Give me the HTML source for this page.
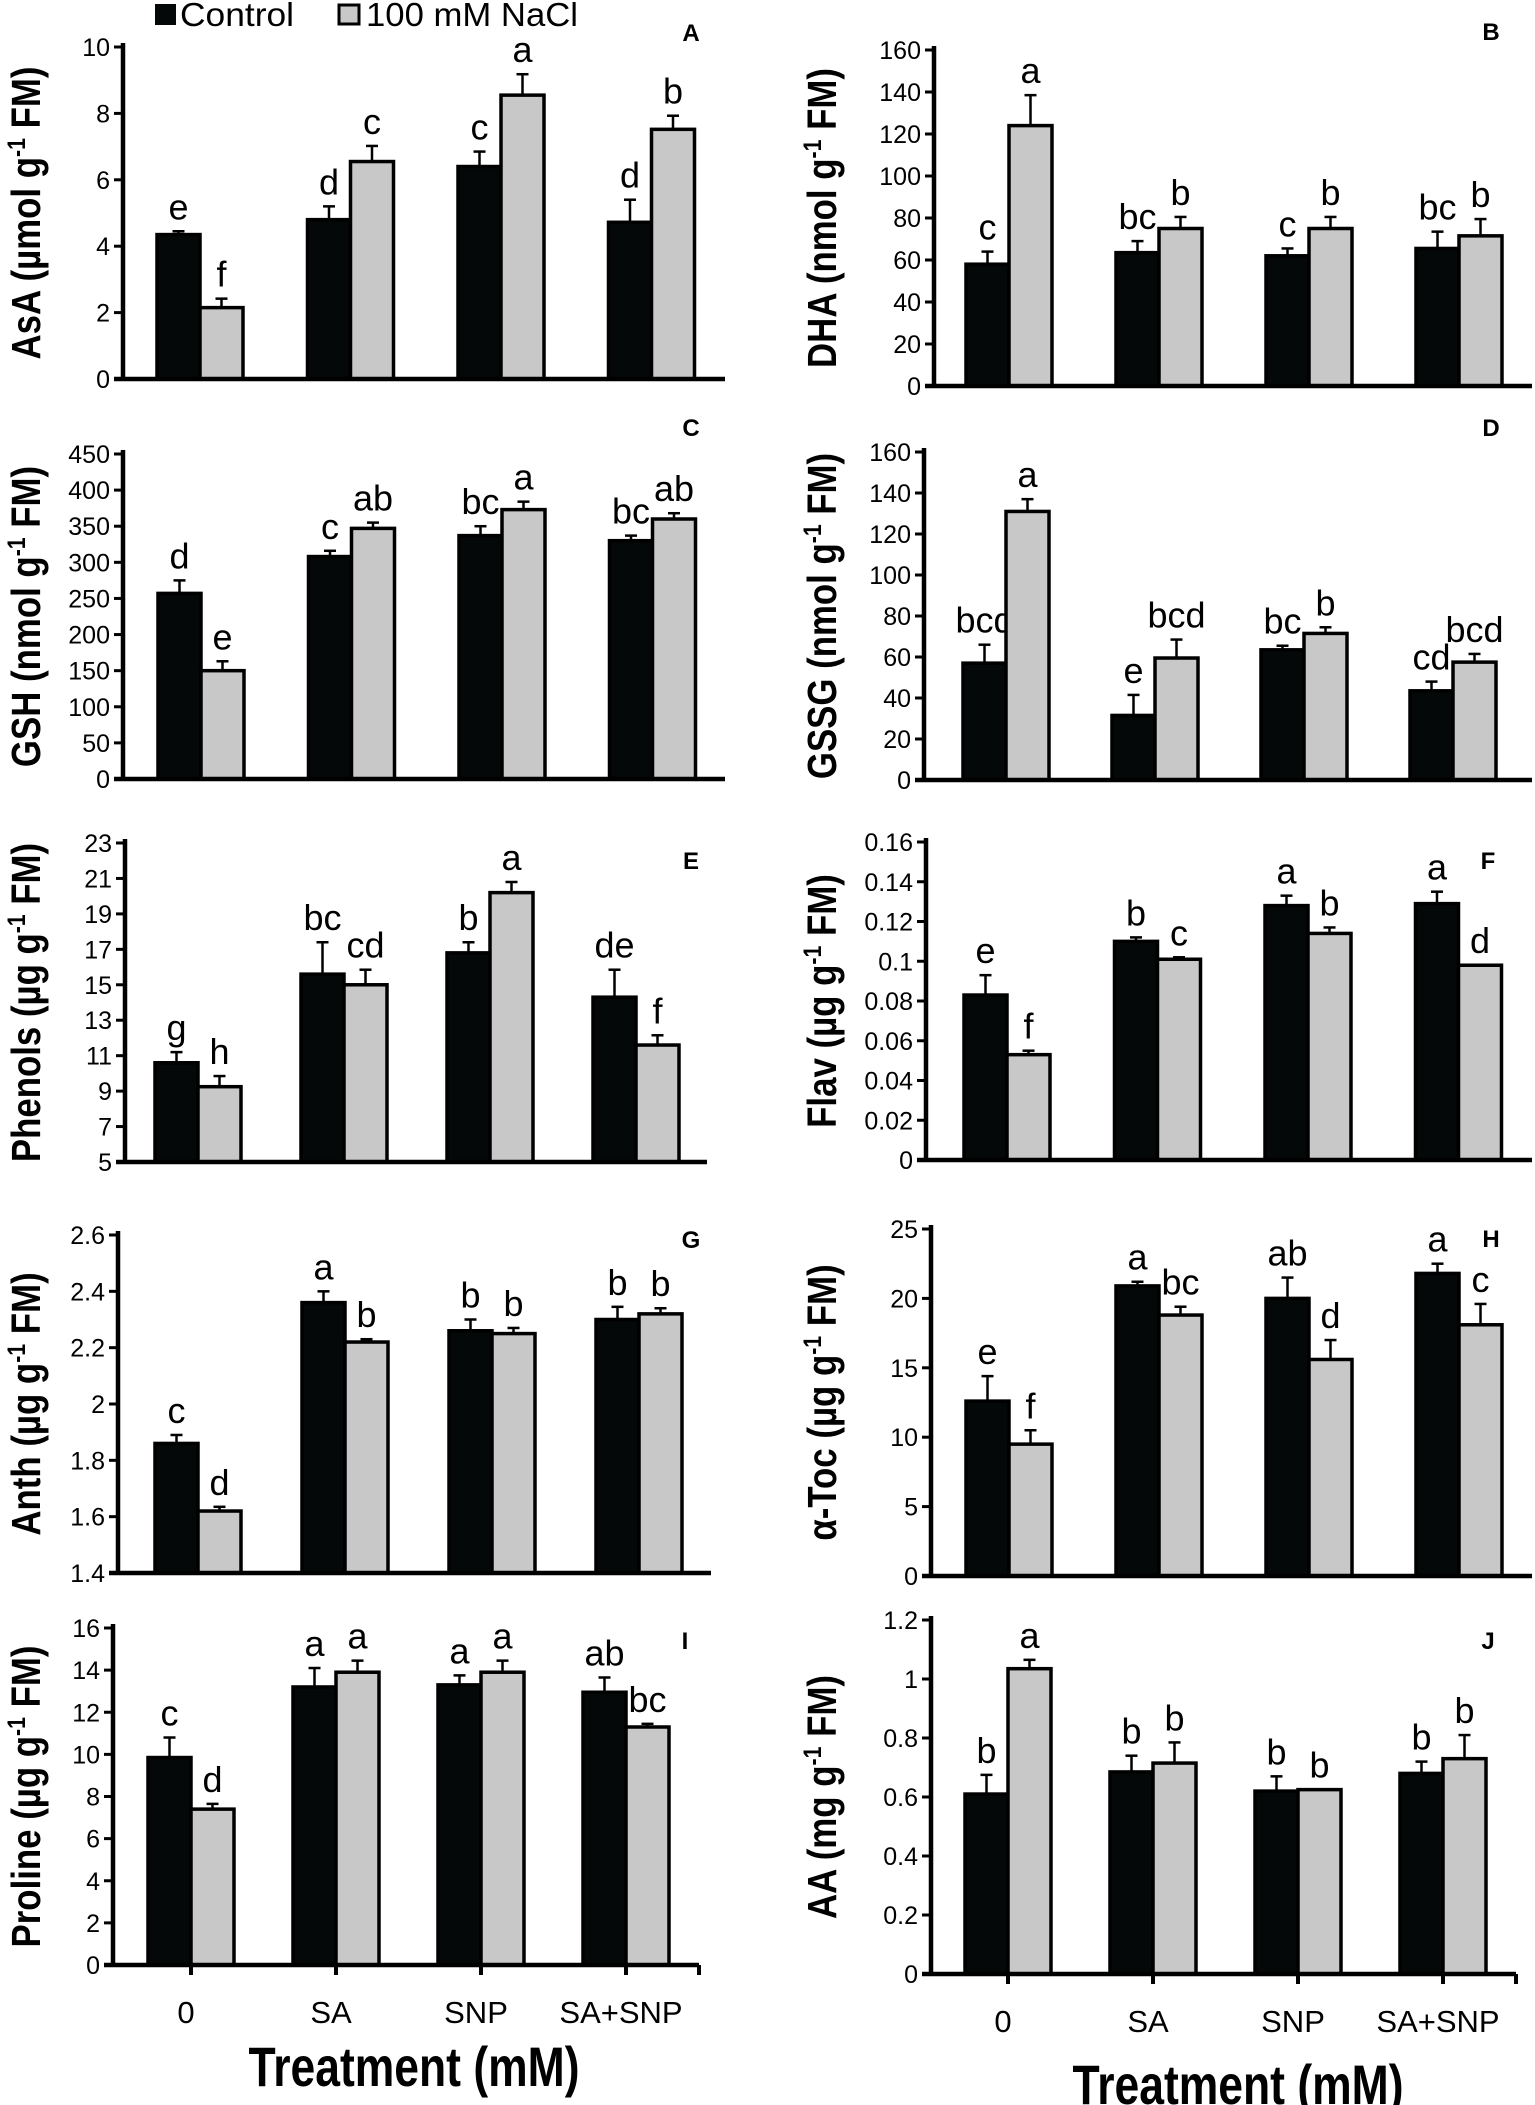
<!DOCTYPE html>
<html><head><meta charset="utf-8"><style>
html,body{margin:0;padding:0;background:#fff}
svg{display:block}
text{font-family:"Liberation Sans",Arial,sans-serif}
</style></head><body>
<svg id="fig" width="1535" height="2105" viewBox="0 0 1535 2105" xmlns="http://www.w3.org/2000/svg">
<g>
<rect x="155" y="4" width="21" height="21" fill="#050808"/>
<text x="180" y="26" font-size="33" textLength="114" lengthAdjust="spacingAndGlyphs">Control</text>
<rect x="339" y="5" width="20" height="19" fill="#c8c8c8" stroke="#000" stroke-width="3"/>
<text x="366" y="26" font-size="33" textLength="212" lengthAdjust="spacingAndGlyphs">100 mM NaCl</text>
</g>
<g id="panels"></g>
<text x="414" y="2086" font-size="56" font-weight="bold" text-anchor="middle" textLength="331" lengthAdjust="spacingAndGlyphs">Treatment (mM)</text>
<text x="1238" y="2104" font-size="56" font-weight="bold" text-anchor="middle" textLength="331" lengthAdjust="spacingAndGlyphs">Treatment (mM)</text>
</svg>
<script>
const categories = ["0","SA","SNP","SA+SNP"];
// Panel A
const aCtrl=[4.35,4.8,6.4,4.72], aCtrlErr=[4.45,5.2,6.85,5.4], aSalt=[2.15,6.55,8.55,7.52], aSaltErr=[2.42,7.02,9.18,7.93];
const aLetC=["e","d","c","d"], aLetS=["f","c","a","b"], aTicks=[0,2,4,6,8,10];
// Panel B
const bCtrl=[58,63.5,62,65.5], bCtrlErr=[64,69,65.5,73.5], bSalt=[124,75,75,71.5], bSaltErr=[138.5,80.5,80.5,79.5];
const bLetC=["c","bc","c","bc"], bLetS=["a","b","b","b"], bTicks=[0,20,40,60,80,100,120,140,160];
// Panel C
const cCtrl=[257,308,337,330], cCtrlErr=[275,316,350,337], cSalt=[150,347,373,360], cSaltErr=[163,355,384,368];
const cLetC=["d","c","bc","bc"], cLetS=["e","ab","a","ab"], cTicks=[0,50,100,150,200,250,300,350,400,450];
// Panel D
const dCtrl=[57,31.5,63.5,43.5], dCtrlErr=[66,41.5,65.5,48], dSalt=[131,59.5,71.5,57.5], dSaltErr=[137,68.5,74.5,61.5];
const dLetC=["bcd","e","bc","cd"], dLetS=["a","bcd","b","bcd"], dTicks=[0,20,40,60,80,100,120,140,160];
// Panel E
const eCtrl=[10.6,15.6,16.8,14.3], eCtrlErr=[11.2,17.4,17.4,15.85], eSalt=[9.25,15,20.2,11.6], eSaltErr=[9.85,15.85,20.8,12.15];
const eLetC=["g","bc","b","de"], eLetS=["h","cd","a","f"], eTicks=[5,7,9,11,13,15,17,19,21,23];
// Panel F
const fCtrl=[0.083,0.110,0.128,0.129], fCtrlErr=[0.093,0.112,0.133,0.135], fSalt=[0.053,0.101,0.114,0.098], fSaltErr=[0.055,0.102,0.117,0.098];
const fLetC=["e","b","a","a"], fLetS=["f","c","b","d"], fTicks=[0,0.02,0.04,0.06,0.08,0.1,0.12,0.14,0.16];
// Panel G
const gCtrl=[1.86,2.36,2.26,2.30], gCtrlErr=[1.89,2.40,2.30,2.345], gSalt=[1.62,2.22,2.25,2.32], gSaltErr=[1.635,2.23,2.27,2.34];
const gLetC=["c","a","b","b"], gLetS=["d","b","b","b"], gTicks=[1.4,1.6,1.8,2,2.2,2.4,2.6];
// Panel H
const hCtrl=[12.6,20.9,20,21.8], hCtrlErr=[14.4,21.2,21.5,22.5], hSalt=[9.5,18.8,15.6,18.1], hSaltErr=[10.5,19.4,17,19.6];
const hLetC=["e","a","ab","a"], hLetS=["f","bc","d","c"], hTicks=[0,5,10,15,20,25];
// Panel I
const iCtrl=[9.85,13.2,13.3,12.95], iCtrlErr=[10.8,14.1,13.75,13.65], iSalt=[7.4,13.9,13.9,11.3], iSaltErr=[7.65,14.45,14.45,11.45];
const iLetC=["c","a","a","ab"], iLetS=["d","a","a","bc"], iTicks=[0,2,4,6,8,10,12,14,16];
// Panel J
const jCtrl=[0.61,0.685,0.62,0.68], jCtrlErr=[0.675,0.74,0.67,0.72], jSalt=[1.035,0.715,0.625,0.73], jSaltErr=[1.065,0.785,0.625,0.81];
const jLetC=["b","b","b","b"], jLetS=["a","b","b","b"], jTicks=[0,0.2,0.4,0.6,0.8,1,1.2];

const NS="http://www.w3.org/2000/svg";
const root=document.getElementById("panels");
function mk(tag,attrs,parent){const e=document.createElementNS(NS,tag);for(const k in attrs)e.setAttribute(k,attrs[k]);parent.appendChild(e);return e;}

const layout=[
 {id:"a",lab:"A",t:"AsA",u:"µmol",ax:123,yT:47,yZ:379,xE:725,c0:200,sp:150.5,d:[aCtrl,aCtrlErr,aSalt,aSaltErr,aLetC,aLetS,aTicks],tx:26,lx:691,ly:41},
 {id:"b",lab:"B",t:"DHA",u:"nmol",ax:934,yT:50,yZ:386,xE:1532,c0:1009,sp:150,d:[bCtrl,bCtrlErr,bSalt,bSaltErr,bLetC,bLetS,bTicks],tx:822,lx:1491,ly:40},
 {id:"c",lab:"C",t:"GSH",u:"nmol",ax:123,yT:454,yZ:779,xE:725,c0:201,sp:150.5,d:[cCtrl,cCtrlErr,cSalt,cSaltErr,cLetC,cLetS,cTicks],tx:26,lx:691,ly:436},
 {id:"d",lab:"D",t:"GSSG",u:"nmol",ax:924,yT:452,yZ:780,xE:1532,c0:1006,sp:149,d:[dCtrl,dCtrlErr,dSalt,dSaltErr,dLetC,dLetS,dTicks],tx:822,lx:1491,ly:436},
 {id:"e",lab:"E",t:"Phenols",u:"µg",ax:125,yT:843,yZ:1162,xE:707,c0:198,sp:146,d:[eCtrl,eCtrlErr,eSalt,eSaltErr,eLetC,eLetS,eTicks],tx:26,lx:691,ly:869},
 {id:"f",lab:"F",t:"Flav",u:"µg",ax:926,yT:842,yZ:1160,xE:1532,c0:1007,sp:150.5,d:[fCtrl,fCtrlErr,fSalt,fSaltErr,fLetC,fLetS,fTicks],tx:822,lx:1488,ly:869},
 {id:"g",lab:"G",t:"Anth",u:"µg",ax:118,yT:1235,yZ:1573,xE:711,c0:198,sp:147,d:[gCtrl,gCtrlErr,gSalt,gSaltErr,gLetC,gLetS,gTicks],tx:26,lx:691,ly:1248},
 {id:"h",lab:"H",t:"α-Toc",u:"µg",ax:931,yT:1229,yZ:1576,xE:1532,c0:1009,sp:150,d:[hCtrl,hCtrlErr,hSalt,hSaltErr,hLetC,hLetS,hTicks],tx:822,lx:1491,ly:1247},
 {id:"i",lab:"I",t:"Proline",u:"µg",ax:113,yT:1628,yZ:1965,xE:699,c0:191,sp:145,d:[iCtrl,iCtrlErr,iSalt,iSaltErr,iLetC,iLetS,iTicks],tx:26,lx:685,ly:1649,bottom:true},
 {id:"j",lab:"J",t:"AA",u:"mg",ax:931,yT:1620,yZ:1974,xE:1516,c0:1008,sp:145,d:[jCtrl,jCtrlErr,jSalt,jSaltErr,jLetC,jLetS,jTicks],tx:822,lx:1488,ly:1649,bottom:true}
];

layout.forEach(p=>{
 const [ctrl,ctrlErr,salt,saltErr,letC,letS,ticks]=p.d;
 const vmin=ticks[0], vmax=ticks[ticks.length-1];
 const y=v=>p.yZ-(v-vmin)/(vmax-vmin)*(p.yZ-p.yT);
 const x=i=>p.c0+i*p.sp;
 const bw=43;
 const g=mk("g",{},root);
 
 
 ticks.forEach(t=>{
  const yy=y(t);
  const tl=mk("line",{x1:p.ax-9,x2:p.ax,y1:yy,y2:yy,stroke:"#000","stroke-width":3},g);
  
  
  const tt=mk("text",{x:p.ax-13,y:yy+9,"font-size":25,"text-anchor":"end"},g);
  tt.textContent=String(t);
  
  
 });
 for(let i=0;i<categories.length;i++){
  const cx=x(i);
  const series=[[ctrl,ctrlErr,letC,"#050808",cx-bw,"control"],[salt,saltErr,letS,"#c8c8c8",cx,"nacl"]];
  series.forEach(s=>{
   const [vals,errs,lets,fill,bx,nm]=s;
   const top=y(vals[i]), et=y(errs[i]), mid=bx+bw/2;
   const el=mk("line",{x1:mid,x2:mid,y1:top,y2:et,stroke:"#000","stroke-width":2.5},g);
   
   
   const ec=mk("line",{x1:mid-6,x2:mid+6,y1:et,y2:et,stroke:"#000","stroke-width":2.5},g);
   
   
   const r=mk("rect",{x:bx,y:top,width:bw,height:p.yZ-top,fill:fill,stroke:"#000","stroke-width":3.5},g);
   
   
   const lt=mk("text",{x:mid,y:et-12,"font-size":36,"text-anchor":"middle"},g);
   lt.textContent=lets[i];
   
   
  });
 }
 const ya=mk("line",{x1:p.ax,x2:p.ax,y1:p.yT-4,y2:p.yZ+2,stroke:"#000","stroke-width":4.5},g);
 
 
 const xa=mk("line",{x1:p.ax-9,x2:p.xE,y1:p.yZ,y2:p.yZ,stroke:"#000","stroke-width":4.5},g);
 
 
 if(p.bottom){
  for(let i=0;i<=categories.length;i++){
   const tx=i<categories.length?x(i):p.xE;
   const tk=mk("line",{x1:tx,x2:tx,y1:p.yZ,y2:p.yZ+10,stroke:"#000","stroke-width":4},g);
   
   
   if(i<categories.length){
    const cl=mk("text",{x:tx-5,y:p.yZ+58,"font-size":31,"text-anchor":"middle"},g);
    cl.textContent=categories[i];
    
    
   }
  }
 }
 const pl=mk("text",{x:p.lx,y:p.ly,"font-size":24,"font-weight":"bold","text-anchor":"middle"},g);
 pl.textContent=p.lab;
 
 
 const cy=(p.yT+p.yZ)/2;
 const yt=mk("text",{x:0,y:0,"font-size":34,"font-weight":"bold","text-anchor":"middle",transform:"translate("+(p.tx+14)+","+cy+") rotate(-90)"},g);
 
 
 const s1=mk("tspan",{},yt); s1.textContent=p.t+" ("+p.u+" g";
 const s2=mk("tspan",{"font-size":22,dy:-15}, yt); s2.textContent="-1";
 const s3=mk("tspan",{dy:15},yt); s3.textContent=" FM)";
 let L=0; try{L=yt.getComputedTextLength();}catch(e){}
 yt.setAttribute("font-size",41);
 s2.setAttribute("font-size",25);
 if(L>0){yt.setAttribute("textLength",L*1.02);yt.setAttribute("lengthAdjust","spacingAndGlyphs");}
});
</script>
</body></html>
